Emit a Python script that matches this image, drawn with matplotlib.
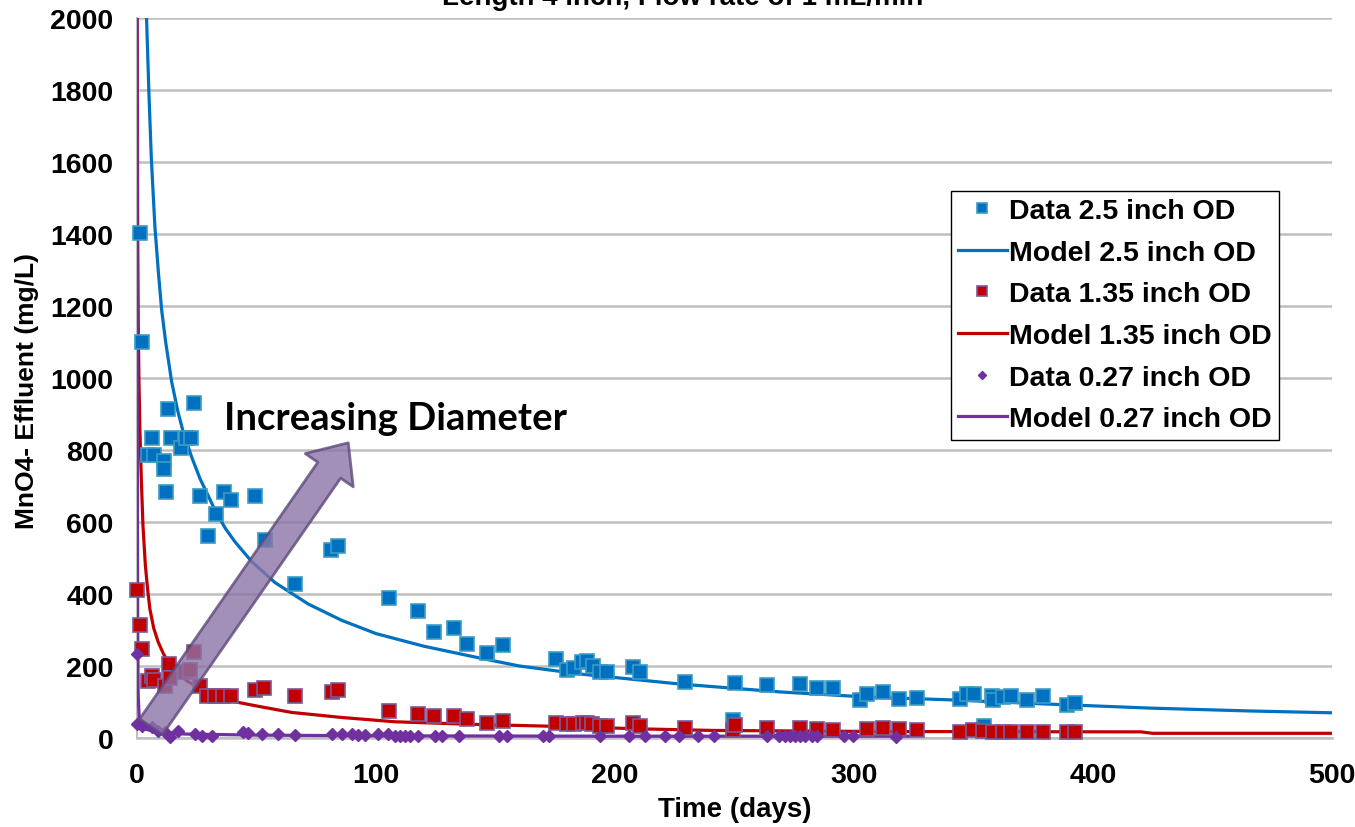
import matplotlib
matplotlib.use("Agg")
import matplotlib.pyplot as plt
from matplotlib.patches import FancyArrowPatch, ArrowStyle

# -----------------------------
# DATA
# -----------------------------
title = "Length 4 inch, Flow rate of 1 mL/min"

# 2.5 inch OD
b_t = [1.3, 2.0, 4.5, 6.4, 7.3, 11.4, 11.4, 12.0, 13.1, 14.2, 18.4, 20.4, 22.6, 24.0, 26.2,
       29.6, 33.2, 36.3, 39.3, 49.4, 53.6, 66.1, 81.2, 84.2, 105.4, 117.7, 124.3, 132.6, 138.2,
       146.3, 153.1, 175.3, 179.8, 182.8, 186.2, 188.4, 190.7, 193.7, 196.5, 207.4, 210.5, 229.4,
       249.2, 250.3, 263.5, 277.4, 284.4, 291.1, 302.5, 305.3, 312.0, 319.0, 326.2, 344.4, 347.4,
       350.2, 354.4, 357.7, 358.3, 362.2, 365.6, 372.5, 379.0, 389.0, 392.3]
b_v = [1403, 1100, 786, 834, 786, 770, 747, 684, 914, 833, 805, 833, 834, 930, 673,
       562, 621, 683, 660, 671, 549, 427, 523, 534, 388, 354, 294, 306, 262,
       235, 259, 219, 190, 195, 210, 214, 199, 184, 184, 197, 182, 156,
       51, 153, 147, 151, 140, 138, 106, 121, 129, 108, 112, 108, 121,
       123, 34, 118, 105, 114, 118, 105, 118, 93, 97]
bm_t = [4.0, 5.0, 6.0, 7.5, 9.0, 10.3, 12.0, 14.5, 17.0, 19.3, 22.9, 26.4, 30.0, 33.0, 37.0,
        41.0, 48.0, 57.7, 71.7, 85.6, 100, 120, 143.5, 160, 185, 227, 269, 305, 340, 382,
        424, 466, 500]
bm_v = [2000, 1790, 1610, 1420, 1290, 1190, 1100, 990, 910, 851, 780, 720, 670, 628, 582,
        545, 490, 432, 372, 327, 290, 255, 222, 200, 178, 150, 128, 114, 106, 94,
        83, 75, 70]

# 1.35 inch OD
r_t = [0.0, 1.4, 2.2, 4.7, 6.1, 7.2, 11.7, 13.4, 13.9, 20.1, 22.3, 24.0, 26.5, 29.3, 32.6,
       36.0, 39.3, 49.4, 53.3, 66.1, 81.5, 84.2, 105.4, 117.7, 124.3, 132.6, 138.2, 146.3, 153.1,
       175.3, 179.8, 182.8, 186.8, 188.4, 190.4, 193.7, 196.5, 207.4, 210.5, 229.4, 249.2, 250.3,
       263.5, 277.4, 284.4, 291.1, 305.3, 312.0, 319.0, 326.2, 344.4, 350.0, 354.1, 358.3, 362.2,
       365.6, 372.5, 379.0, 389.0, 392.3]
r_v = [410, 314, 247, 158, 173, 162, 144, 205, 166, 182, 188, 238, 145, 116, 118,
       116, 118, 132, 138, 118, 127, 132, 75, 67, 60, 60, 53, 43, 48,
       43, 38, 38, 42, 42, 38, 34, 34, 42, 34, 27, 23, 36,
       27, 27, 25, 21, 25, 27, 25, 23, 18, 23, 19, 18, 18,
       18, 18, 18, 16, 18]
rm_t = [0.1, 0.3, 0.55, 0.8, 1.2, 1.8, 2.5, 3.5, 4.5, 5.4, 7.0, 8.9, 11.0, 13.1, 17.3,
        21.0, 25.6, 30.0, 36.8, 43.0, 50.8, 64.7, 85.6, 108, 140, 171, 213, 241, 311,
        420, 425, 500]
rm_v = [2000, 1400, 1130, 1000, 860, 720, 590, 480, 410, 358, 305, 266, 235, 210, 178,
        158, 141, 125, 108, 98, 88, 71, 57, 45, 38, 33, 25, 21, 18,
        17, 13, 13]

# 0.27 inch OD
p_t = [0, 0, 1.9, 6.1, 8.9, 11.7, 13.8, 17.3, 24.3, 27.0, 31.2, 44.5, 46.6, 52.2, 59.1,
       66.1, 81.5, 85.6, 89.8, 92.6, 95.4, 101.0, 105.1, 108.0, 110.0, 112.1, 114.2, 117.7,
       124.7, 127.5, 134.7, 151.6, 154.7, 169.7, 172.5, 193.7, 206.0, 212.4, 220.9, 226.9,
       234.9, 241.5, 263.5, 268.7, 271.1, 273.2, 275.3, 277.4, 279.5, 282.3, 284.6, 295.8,
       299.5, 317.6]
p_v = [234, 40, 34, 30, 20, 16, 2, 20, 11, 6, 6, 16, 14, 11, 11,
       8, 11, 11, 11, 8, 8, 11, 11, 6, 6, 6, 6, 6,
       6, 6, 6, 6, 6, 6, 6, 6, 5, 5, 5, 5,
       5, 5, 5, 5, 5, 5, 5, 5, 5, 5, 5, 5,
       5, 2]
pm_t = [0.05, 0.15, 0.3, 0.5, 1, 3, 9, 20, 50, 100, 200, 323]
pm_v = [2000, 800, 300, 120, 45, 25, 16, 11, 8, 6, 5, 5]

x_ticks = [0, 100, 200, 300, 400, 500]
y_ticks = list(range(0, 2001, 200))

BLUE = "#0070C0"
RED = "#C00000"
PURPLE = "#7030A0"

plt.rcParams["font.family"] = ["Liberation Sans", "DejaVu Sans"]

fig = plt.figure(figsize=(13.55, 8.28), dpi=100)
ax = fig.add_axes([0.1011, 0.1075, 0.8819, 0.8695])

ax.plot(b_t, b_v, "s", color=BLUE, mec="#3C9CC4", mew=1.2, ms=9.5,
        label="Data 2.5 inch OD", clip_on=False, zorder=4)
ax.plot(bm_t, bm_v, "-", color=BLUE, lw=2.3, label="Model 2.5 inch OD", zorder=3)
ax.plot(r_t, r_v, "s", color=RED, mec="#7A5A98", mew=1.2, ms=9.5,
        label="Data 1.35 inch OD", clip_on=False, zorder=4)
ax.plot(rm_t, rm_v, "-", color=RED, lw=2.3, label="Model 1.35 inch OD", zorder=3)
ax.plot(p_t, p_v, "D", color=PURPLE, mec=PURPLE, ms=6.5,
        label="Data 0.27 inch OD", clip_on=False, zorder=4)
ax.plot(pm_t, pm_v, "-", color=PURPLE, lw=2.3, label="Model 0.27 inch OD", zorder=3)

ax.set_xlim(0, 500)
ax.set_ylim(0, 2000)
ax.set_xticks(x_ticks)
ax.set_yticks(y_ticks)
ax.tick_params(length=0, labelsize=20.5, pad=17)
for lab in ax.get_xticklabels() + ax.get_yticklabels():
    lab.set_fontweight("bold")
ax.yaxis.grid(True, color="#BFBFBF", lw=1.8)
ax.set_axisbelow(True)
for side in ["top", "right"]:
    ax.spines[side].set_visible(False)
ax.spines["left"].set_color("#BFBFBF")
ax.spines["bottom"].set_color("#BFBFBF")
ax.spines["left"].set_linewidth(1.5)
ax.spines["bottom"].set_linewidth(1.8)

ax.set_xlabel("Time (days)", fontsize=20, fontweight="bold", labelpad=6)
ax.set_ylabel("MnO4- Effluent (mg/L)", fontsize=19, fontweight="bold")
ax.yaxis.set_label_coords(-0.082, 0.483)

# arrow + annotation
arrow = FancyArrowPatch((5.9, 31), (88.4, 820),
                        arrowstyle=ArrowStyle.Simple(head_length=24, head_width=42, tail_width=20),
                        mutation_scale=1, shrinkA=0, shrinkB=0,
                        facecolor="#8C74A8", edgecolor="#5E4A7C", lw=2, alpha=0.8, zorder=5)
ax.add_patch(arrow)
ax.text(36.5, 858, "Increasing Diameter", fontsize=27.5, fontweight="bold",
        family=["Lato", "DejaVu Sans"], va="baseline", ha="left", zorder=6)

leg = ax.legend(loc="upper left", bbox_to_anchor=(951 / 1355, 1 - 192 / 828),
                bbox_transform=fig.transFigure, prop={"weight": "bold", "size": 20.5},
                frameon=True, fancybox=False, edgecolor="black", framealpha=1,
                borderpad=0.25, labelspacing=0.55, handlelength=1.7, handletextpad=0.1,
                markerscale=0.7, borderaxespad=0)
leg.get_frame().set_linewidth(1.0)

fig.text(0.504, 1 - 5 / 828, title, fontsize=20, fontweight="bold",
         ha="center", va="baseline")

fig.savefig("out.png", dpi=100)
